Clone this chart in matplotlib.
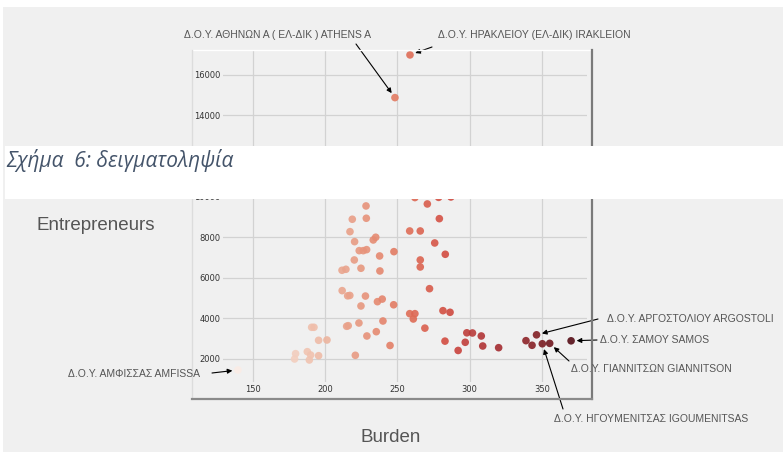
import matplotlib.pyplot as plt
from matplotlib.lines import Line2D
from matplotlib.patches import Rectangle
from matplotlib.colors import Normalize
import colorsys
import numpy as np

W, H = 783, 453

# --- DATA ---
burden = [258.8, 248.4, 262.2, 278.6, 287.1, 270.8, 228.4, 218.9, 228.6, 279.1,
          217.3, 258.6, 265.9, 220.5, 233.4, 235.1, 275.9, 223.7, 226.5, 228.8,
          247.7, 283.2, 237.8, 220.3, 265.9, 265.9, 211.8, 214.5, 224.9, 238.0,
          272.3, 211.9, 215.7, 217.2, 228.0, 224.9, 236.3, 239.6, 247.5, 258.6,
          262.2, 261.1, 281.6, 286.5, 190.8, 192.4, 215.0, 216.1, 223.5, 240.1,
          235.5, 229.0, 269.1, 195.6, 201.4, 245.0, 179.7, 179.0, 187.8, 190.1,
          189.2, 195.6, 221.0, 283.0, 292.1, 297.0, 298.1, 302.0, 308.1, 309.1,
          320.1, 339.0, 343.2, 346.3, 350.3, 355.4, 370.2, 139.8]
entrepreneurs = [16975, 14872, 9950, 9960, 9980, 9635, 9537, 8882, 8931, 8911,
                 8271, 8305, 8305, 7779, 7862, 7995, 7714, 7336, 7336, 7385,
                 7286, 7157, 7074, 6877, 6877, 6532, 6369, 6418, 6468, 6335,
                 5463, 5366, 5110, 5130, 5100, 4611, 4823, 4950, 4670, 4232,
                 4232, 3970, 4380, 4300, 3561, 3561, 3611, 3640, 3773, 3872,
                 3345, 3133, 3520, 2921, 2936, 2665, 2263, 2000, 2361, 2197,
                 1951, 2163, 2182, 2880, 2420, 2823, 3290, 3281, 3133, 2640,
                 2557, 2902, 2675, 3190, 2750, 2770, 2895, 1458]

x_ticks = [150, 200, 250, 300, 350]
y_ticks = [2000, 4000, 6000, 8000, 10000, 12000, 14000, 16000]
# 12000 sits under the caption band in the screenshot
y_ticklabels = ["2000", "4000", "6000", "8000", "10000", "", "14000", "16000"]

# labelled offices: (text, point index, text x, text y, arrow start x, arrow start y) in pixels
labels = [
    ("Δ.Ο.Υ. ΑΘΗΝΩΝ Α ( ΕΛ-ΔΙΚ ) ATHENS A", 1, 184, 35, 356, 44),
    ("Δ.Ο.Υ. ΗΡΑΚΛΕΙΟΥ (ΕΛ-ΔΙΚ) IRAKLEION", 0, 438, 35, 432, 47),
    ("Δ.Ο.Υ. ΑΜΦΙΣΣΑΣ AMFISSA", 77, 68, 374, 212, 373),
    ("Δ.Ο.Υ. ΑΡΓΟΣΤΟΛΙΟΥ ARGOSTOLI", 73, 607, 319, 598, 319),
    ("Δ.Ο.Υ. ΣΑΜΟΥ SAMOS", 76, 600, 340, 597, 340),
    ("Δ.Ο.Υ. ΓΙΑΝΝΙΤΣΩΝ GIANNITSON", 75, 571, 369, 569, 361),
    ("Δ.Ο.Υ. ΗΓΟΥΜΕΝΙΤΣΑΣ IGOUMENITSAS", 74, 554, 419, 563, 409),
]


def fx(px):
    return px / W


def fy(py):
    return 1 - py / H


# Reds colormap, a bit desaturated like the screenshot
cmap = plt.get_cmap("Reds")
norm = Normalize(min(burden), max(burden))
colors = []
for b in burden:
    r, g, bl, _ = cmap(norm(b))
    h, l, s = colorsys.rgb_to_hls(r, g, bl)
    colors.append(colorsys.hls_to_rgb(h, l * 0.97, s * 0.72))

fig = plt.figure(figsize=(W / 100, H / 100), dpi=100, facecolor="white")
fig.add_artist(Rectangle((fx(3), fy(452)), fx(780), 445 / H, transform=fig.transFigure,
                         facecolor="#f0f0f0", edgecolor="none", zorder=0))

ax = fig.add_axes([fx(223), fy(382), fx(587 - 223), (382 - 50) / H])
ax.set_facecolor("#f0f0f0")
for s in ax.spines.values():
    s.set_visible(False)

ax.grid(True, color="#d2d2d2", linewidth=0.9)
ax.set_axisbelow(True)
ax.scatter(burden, entrepreneurs, c=colors, s=30, alpha=0.9,
           edgecolors="none", zorder=3)
ax.set_xlim(129.5, 381.2)
ax.set_ylim(867, 17217)
ax.set_xticks(x_ticks)
ax.set_yticks(y_ticks)
ax.set_yticklabels(y_ticklabels)
ax.tick_params(length=0, labelsize=6, labelcolor="#333333", pad=2)

# frame of the embedded image
fig.add_artist(Line2D([fx(192), fx(592)], [fy(50), fy(50)], transform=fig.transFigure, color="white", lw=1))
fig.add_artist(Line2D([fx(192), fx(192)], [fy(50), fy(399)], transform=fig.transFigure, color="#dcdcdc", lw=1))
fig.add_artist(Line2D([fx(592), fx(592)], [fy(50), fy(399)], transform=fig.transFigure, color="#7a7a7a", lw=1.6))
fig.add_artist(Line2D([fx(192), fx(592)], [fy(399), fy(399)], transform=fig.transFigure, color="#8a8a8a", lw=1.6))

# annotations
for text, i, tx, ty, ax0, ay0 in labels:
    fig.text(fx(tx), fy(ty), text, family="Liberation Sans", fontsize=7.5,
             color="#555555", ha="left", va="center")
    ax.annotate("", xy=(burden[i], entrepreneurs[i]), xycoords="data",
                xytext=(fx(ax0), fy(ay0)), textcoords="figure fraction",
                arrowprops=dict(arrowstyle="-|>", color="black", lw=0.8,
                                mutation_scale=7, shrinkA=0, shrinkB=4),
                annotation_clip=False)

fig.text(fx(36), fy(226), "Entrepreneurs", family="Liberation Sans", fontsize=13.5,
         color="#555555", ha="left", va="center")
fig.text(fx(391), fy(438), "Burden", family="Liberation Sans", fontsize=13.5,
         color="#555555", ha="center", va="center")

# caption band from the document
fig.add_artist(Rectangle((fx(5), fy(199)), fx(778), 53 / H, transform=fig.transFigure,
                         facecolor="white", edgecolor="none", zorder=10))
fig.text(fx(6), fy(161), "Σχήμα  6: δειγματοληψία", family="Open Sans", style="italic",
         fontsize=15, color="#44546a", ha="left", va="center", zorder=11)

fig.savefig("out.png", dpi=100, facecolor=fig.get_facecolor())
